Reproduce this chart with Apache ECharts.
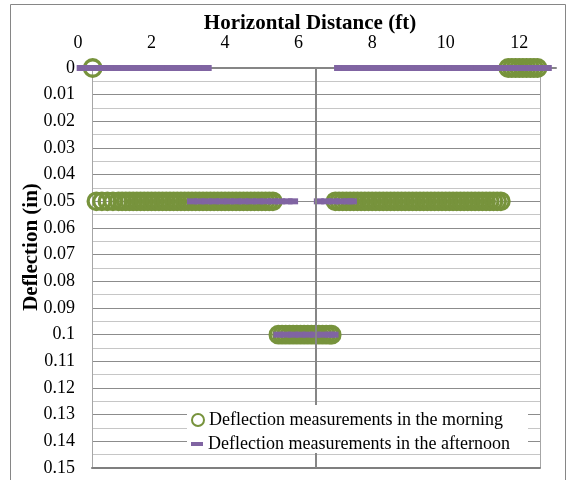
<!DOCTYPE html>
<html>
<head>
<meta charset="utf-8">
<script src="https://cdn.jsdelivr.net/npm/echarts@6/dist/echarts.min.js"></script>
<style>
  html, body { margin: 0; padding: 0; background: #fff; }
  #chart { width: 574px; height: 480px; }
</style>
</head>
<body>
<div id="chart"></div>
<script>
// Horizontal positions (ft) of each reading, grouped by measured deflection (in)
const morningAt0 = [0.4, 11.7, 11.8, 11.9, 12.0, 12.1, 12.2, 12.3, 12.4, 12.5];
const morningAt005 = [
  0.5, 0.65, 0.8, 0.95, 1.1, 1.2, 1.3, 1.4, 1.5, 1.6, 1.7, 1.8, 1.9, 2.0, 2.1, 2.2, 2.3, 2.4,
  2.5, 2.6, 2.7, 2.8, 2.9, 3.0, 3.1, 3.2, 3.3, 3.4, 3.5, 3.6, 3.7, 3.8, 3.9, 4.0, 4.1, 4.2,
  4.3, 4.4, 4.5, 4.6, 4.7, 4.8, 4.9, 5.0, 5.1, 5.2, 5.3,
  7.0, 7.1, 7.2, 7.3, 7.4, 7.5, 7.6, 7.7, 7.8, 7.9, 8.0, 8.1, 8.2, 8.3, 8.4, 8.5, 8.6, 8.7,
  8.8, 8.9, 9.0, 9.1, 9.2, 9.3, 9.4, 9.5, 9.6, 9.7, 9.8, 9.9, 10.0, 10.1, 10.2, 10.3, 10.4,
  10.5, 10.6, 10.7, 10.8, 10.9, 11.0, 11.1, 11.2, 11.3, 11.4, 11.5
];
const morningAt01 = [5.45, 5.55, 5.65, 5.75, 5.85, 5.95, 6.05, 6.15, 6.25, 6.35, 6.45, 6.55, 6.65, 6.75, 6.85, 6.9];

const afternoonAt0 = [
  0.1, 0.3, 0.5, 0.7, 0.9, 1.1, 1.3, 1.5, 1.7, 1.9, 2.1, 2.3, 2.5, 2.7, 2.9, 3.1, 3.3, 3.5,
  7.1, 7.3, 7.5, 7.7, 7.9, 8.1, 8.3, 8.5, 8.7, 8.9, 9.1, 9.3, 9.5, 9.7, 9.9, 10.1, 10.3,
  10.5, 10.7, 10.9, 11.1, 11.3, 11.5, 11.7, 11.9, 12.1, 12.3, 12.5, 12.75
];
const afternoonAt005 = [
  3.1, 3.3, 3.5, 3.7, 3.9, 4.1, 4.3, 4.5, 4.7, 4.9, 5.1, 5.3, 5.5, 5.7, 5.85,
  6.55, 6.75, 6.95, 7.15, 7.35, 7.45
];
const afternoonAt01 = [5.45, 5.65, 5.85, 6.05, 6.25, 6.45, 6.65, 6.85, 6.95];

// Deflection levels the readings fall on
const deflectionLevels = [0, 0.05, 0.1];
// Where the vertical axis crosses the horizontal one (ft)
const verticalAxisCross = 6.47;

const morningName = 'Deflection measurements in the morning';
const afternoonName = 'Deflection measurements in the afternoon';

function toPoints(groups) {
  const pts = [];
  groups.forEach((xs, i) => xs.forEach(x => pts.push([x, deflectionLevels[i]])));
  return pts;
}
const morningData = toPoints([morningAt0, morningAt005, morningAt01]);
const afternoonData = toPoints([afternoonAt0, afternoonAt005, afternoonAt01]);

const FONT = "'Liberation Serif', 'Times New Roman', serif";
const GREEN = '#77933C';
const PURPLE = '#8064A2';

const chart = echarts.init(document.getElementById('chart'), null, { renderer: 'canvas' });

chart.setOption({
  animation: false,
  backgroundColor: '#fff',
  grid: [
    { left: 78, right: 18, top: 68, bottom: 12 },
    { left: 92, right: 34, top: 68, bottom: 12 }
  ],
  xAxis: [
    {
      gridIndex: 0, type: 'value', position: 'top', min: 0, max: 13, interval: 2,
      axisLine: { show: true, onZero: false, lineStyle: { color: '#868686', width: 2 } },
      axisTick: { show: false },
      splitLine: { show: false },
      axisLabel: {
        margin: 16, fontSize: 18, fontFamily: FONT, color: '#000', showMaxLabel: false,
        formatter: v => (v % 2 === 0 ? String(v) : '')
      }
    },
    {
      gridIndex: 1, type: 'value', position: 'bottom', min: 0, max: 1, interval: 1,
      axisLine: { show: true, onZero: false, lineStyle: { color: '#7f7f7f', width: 2 } },
      axisTick: { show: false },
      axisLabel: { show: false },
      splitLine: { show: true, lineStyle: { color: '#a6a6a6', width: 1 } }
    }
  ],
  yAxis: [
    {
      gridIndex: 0, type: 'value', inverse: true, min: 0, max: 0.15, interval: 0.01,
      axisLine: { show: false },
      axisTick: { show: false },
      splitLine: { show: false },
      axisLabel: {
        margin: 3, fontSize: 18, fontFamily: FONT, color: '#000',
        formatter: v => String(parseFloat(v.toFixed(3)))
      }
    },
    {
      gridIndex: 1, type: 'value', inverse: true, min: 0, max: 0.15, interval: 0.005,
      axisLine: { show: false },
      axisTick: { show: false },
      axisLabel: { show: false },
      splitLine: { show: true, lineStyle: { color: ['#8c8c8c', '#c6c6c6'], width: 1 } }
    }
  ],
  legend: [
    {
      data: [morningName], left: 191, top: 411, padding: 0,
      itemWidth: 12, itemHeight: 12, z: 20,
      itemStyle: { borderWidth: 2 },
      textStyle: { fontFamily: FONT, fontSize: 18, color: '#000' }
    },
    {
      data: [afternoonName], left: 191, top: 435, padding: 0,
      itemWidth: 12, itemHeight: 4, z: 20,
      textStyle: { fontFamily: FONT, fontSize: 18, color: '#000' }
    }
  ],
  graphic: [
    {
      type: 'rect', z: 15, silent: true,
      shape: { x: 187, y: 405, width: 341, height: 48 },
      style: { fill: '#fff' }
    },
    {
      type: 'rect', z: 0, silent: true,
      shape: { x: 10.5, y: 4.5, width: 555, height: 490 },
      style: { fill: 'none', stroke: '#868686', lineWidth: 1 }
    },
    {
      type: 'text', x: 310, y: 24, silent: true,
      style: {
        text: 'Horizontal Distance (ft)', font: 'bold 21px ' + FONT, fill: '#000',
        textAlign: 'center', textVerticalAlign: 'middle', align: 'center', verticalAlign: 'middle'
      }
    },
    {
      type: 'text', x: 32, y: 247, rotation: Math.PI / 2, silent: true,
      style: {
        text: 'Deflection (in)', font: 'bold 21px ' + FONT, fill: '#000',
        textAlign: 'center', textVerticalAlign: 'middle', align: 'center', verticalAlign: 'middle'
      }
    }
  ],
  series: [
    {
      type: 'scatter', xAxisIndex: 0, yAxisIndex: 0, data: [], z: 1, silent: true,
      markLine: {
        silent: true, symbol: 'none', label: { show: false }, animation: false,
        lineStyle: { color: '#868686', width: 2, type: 'solid' },
        data: [{ xAxis: verticalAxisCross }]
      }
    },
    {
      name: morningName, type: 'scatter', xAxisIndex: 0, yAxisIndex: 0, z: 3, clip: false,
      symbol: 'circle', symbolSize: 16.5,
      itemStyle: { color: 'rgba(255,255,255,0)', borderColor: GREEN, borderWidth: 3.3, opacity: 1 },
      data: morningData
    },
    {
      name: afternoonName, type: 'scatter', xAxisIndex: 0, yAxisIndex: 0, z: 4, clip: false,
      symbol: 'rect', symbolSize: [10, 6],
      itemStyle: { color: PURPLE, opacity: 1 },
      data: afternoonData
    }
  ]
});
</script>
</body>
</html>
